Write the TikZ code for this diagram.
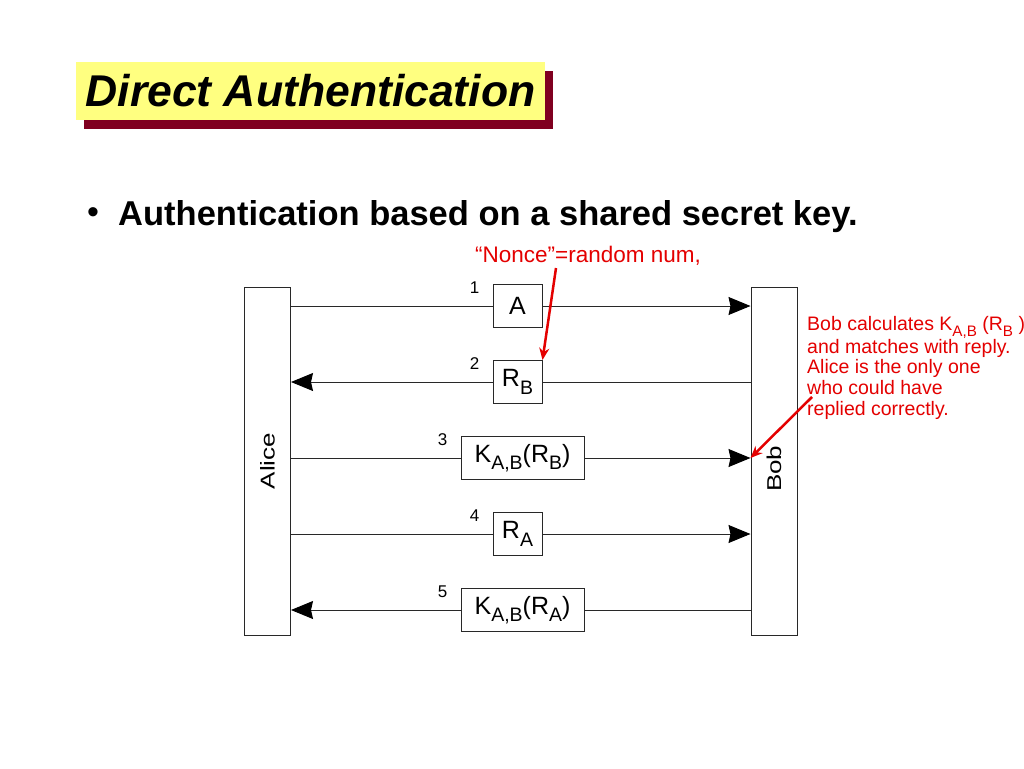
\documentclass[tikz,border=0pt]{standalone}
\usepackage{graphicx}
\usepackage{fontspec}
\setmainfont{Liberation Sans}
\usetikzlibrary{positioning,arrows.meta,shadows}
\definecolor{titleyellow}{RGB}{255,255,128}
\definecolor{titleshade}{RGB}{128,0,32}
\definecolor{notered}{RGB}{228,0,0}
\definecolor{linegray}{RGB}{40,40,40}
\newcommand\fsz[2]{\fontsize{#1}{#2}\selectfont}
\newcommand\lowsub[1]{\raisebox{-.3em}{\scalebox{.78}{#1}}}
\begin{document}
\begin{tikzpicture}[x=1pt,y=-1pt,
    lifeline/.style={draw=linegray,line width=1pt,minimum width=46pt,minimum height=348pt,inner sep=0pt,font=\fsz{20}{24}},
    msgbox/.style={draw=linegray,line width=1pt,fill=white,minimum height=43pt,inner sep=0pt,font=\fsz{25}{29}},
    msgnum/.style={inner sep=0pt,font=\fsz{17}{20}},
    msg/.style={draw=linegray,line width=1pt},
    msgto/.style={msg,-{Stealth[length=22pt,width=18pt,inset=2pt,color=black]}},
    msgfrom/.style={msg,{Stealth[length=22pt,width=18pt,inset=2pt,color=black]}-},
    remark/.style={text=notered,inner sep=0pt,font=\fsz{19.5}{20.7},align=left},
    pointer/.style={draw=notered,line width=2.5pt,-{Stealth[length=12pt,width=10pt]}}]
    \fill[white] (0,0) rectangle (1024,768);
    \useasboundingbox (0,0) rectangle (1024,768);
    \node (title) [fill=titleyellow,minimum width=469pt,minimum height=58pt,inner sep=0pt,
      font=\fsz{44.5}{50}\bfseries\itshape,
      drop shadow={shadow xshift=8pt,shadow yshift=-9pt,fill=titleshade,opacity=1}] at (310.5,91) {Direct Authentication};
    \node (dot) [inner sep=0pt,font=\fsz{34}{40}] at (93,216) {•};
    \node (point) [anchor=base west,inner sep=0pt,font=\fsz{34.5}{40}\bfseries] at (118,225) {Authentication based on a shared secret key.};
    \node (nonce) [remark,anchor=base west,font=\fsz{22.5}{26}] at (475,262) {“Nonce”=random num,};
    \node (alice) [lifeline] at (267.5,461) {\rotatebox{90}{\scalebox{1.3}[1]{Alice}}};
    \node (bob) [lifeline] at (774,461) {\rotatebox{90}{\scalebox{1.3}[1]{Bob\hspace{12pt}}}};
    \foreach \i/\cx/\bw/\lstyle/\rstyle/\txt in {1/517.5/49/msg/msgto/A,
        2/517.5/49/msgfrom/msg/{R\lowsub{B}},
        3/522.5/123/msg/msgto/{K\lowsub{A,B}(R\lowsub{B})},
        4/517.5/49/msg/msgto/{R\lowsub{A}},
        5/522.5/123/msgfrom/msg/{K\lowsub{A,B}(R\lowsub{A})}} {
      \node (m\i) [msgbox,minimum width=\bw pt] at (\cx,{306+76*(\i-1)}) {\txt};
      \node (n\i) [msgnum,left=13pt of m\i.north west,yshift=-4pt] {\i};
      \draw[\lstyle] (alice.east |- m\i) -- (m\i.west);
      \draw[\rstyle] (m\i.east) -- (bob.west |- m\i);
    }
    \node (note) [remark,anchor=north west] at (807,316) {Bob calculates K\lowsub{A,B} (R\lowsub{B} )\\and matches with reply.\\Alice is the only one\\who could have\\replied correctly.};
    \coordinate (noncetail) at (556,268);
    \coordinate (notetail) at (812,397);
    \draw[pointer] (noncetail) -- (m2.north east);
    \draw[pointer] (notetail) -- (bob.west |- m3);
\end{tikzpicture}
\end{document}
